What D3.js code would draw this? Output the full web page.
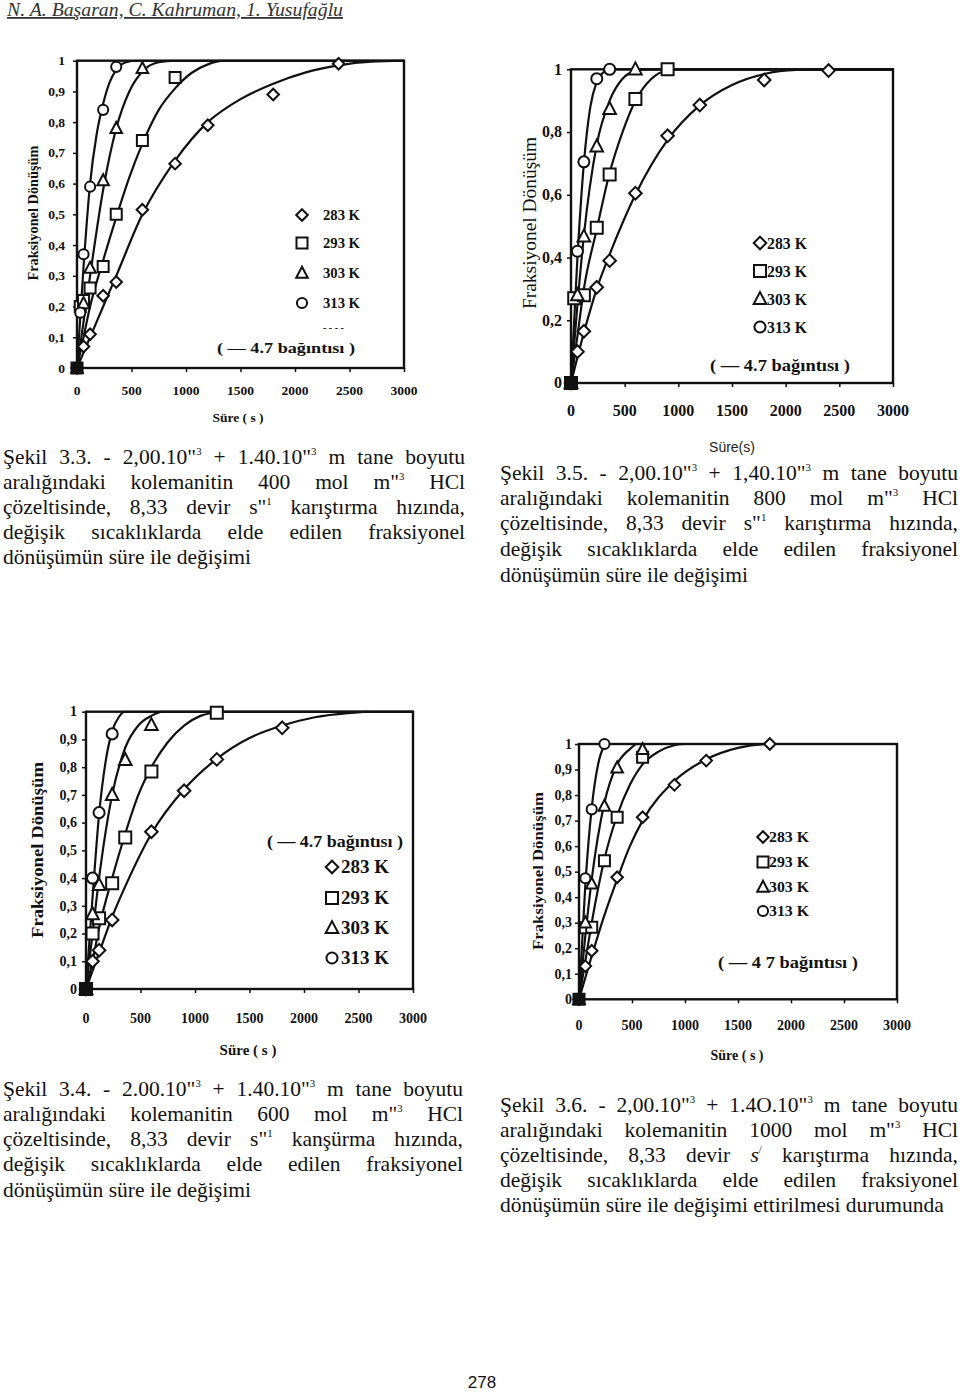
<!DOCTYPE html>
<html><head><meta charset="utf-8">
<script src="https://cdn.jsdelivr.net/npm/d3@7"></script>
<style>body{margin:0;background:#fff}svg{display:block}</style>
</head><body>
<svg id="page" width="960" height="1393"></svg>
<script>
// ---------------- DATA ----------------
const xTickValues = [0, 500, 1000, 1500, 2000, 2500, 3000];
const xTickLabels = ["0", "500", "1000", "1500", "2000", "2500", "3000"];
const yTickValuesFine = [0, 0.1, 0.2, 0.3, 0.4, 0.5, 0.6, 0.7, 0.8, 0.9, 1];
const yTickLabelsFine = ["0", "0,1", "0,2", "0,3", "0,4", "0,5", "0,6", "0,7", "0,8", "0,9", "1"];
const yTickValuesCoarse = [0, 0.2, 0.4, 0.6, 0.8, 1];
const yTickLabelsCoarse = ["0", "0,2", "0,4", "0,6", "0,8", "1"];
const temperatures = ["283 K", "293 K", "303 K", "313 K"];
const symbolKinds = ["diamond", "square", "triangle", "circle"];

// measured points [time s, fractional conversion] — 400 mol m-3 (Şekil 3.3)
const pts400_283 = [[0,0],[60,0.07],[120,0.11],[240,0.235],[360,0.28],[600,0.515],[900,0.665],[1200,0.79],[1800,0.89],[2400,0.99]];
const pts400_293 = [[0,0],[30,0.2],[60,0.22],[120,0.26],[240,0.33],[360,0.5],[600,0.74],[900,0.945]];
const pts400_303 = [[0,0],[60,0.21],[120,0.325],[240,0.61],[360,0.78],[600,0.975]];
const pts400_313 = [[0,0],[30,0.18],[60,0.37],[120,0.59],[240,0.84],[360,0.98]];
// fitted curves
const fit400_283 = [[0,0],[120,0.1],[240,0.2],[360,0.3],[600,0.5],[900,0.675],[1200,0.8],[1500,0.875],[1800,0.925],[2100,0.962],[2400,0.985],[2700,0.997],[3000,1]];
const fit400_293 = [[0,0],[60,0.1],[120,0.2],[240,0.35],[360,0.49],[480,0.62],[600,0.73],[750,0.84],[900,0.91],[1050,0.96],[1200,0.988],[1350,1],[3000,1]];
const fit400_303 = [[0,0],[60,0.15],[120,0.3],[240,0.58],[360,0.78],[480,0.9],[600,0.965],[750,0.995],[900,1],[3000,1]];
const fit400_313 = [[0,0],[60,0.33],[120,0.6],[180,0.76],[240,0.86],[300,0.93],[360,0.97],[450,0.995],[550,1],[3000,1]];

// 800 mol m-3 (Şekil 3.5)
const pts800_283 = [[0,0],[60,0.1],[120,0.165],[240,0.305],[360,0.39],[600,0.605],[900,0.788],[1200,0.886],[1800,0.966],[2400,0.996]];
const pts800_293 = [[0,0],[30,0.27],[120,0.28],[240,0.495],[360,0.665],[600,0.905],[900,1.0]];
const pts800_303 = [[0,0],[60,0.28],[120,0.467],[240,0.754],[360,0.874],[600,1.0]];
const pts800_313 = [[0,0],[60,0.42],[120,0.705],[240,0.97],[360,1.0]];
const fit800_283 = [[0,0],[120,0.16],[240,0.3],[360,0.41],[480,0.51],[600,0.6],[900,0.775],[1200,0.885],[1500,0.95],[1800,0.985],[2100,0.998],[2400,1],[3000,1]];
const fit800_293 = [[0,0],[60,0.15],[120,0.3],[240,0.49],[360,0.67],[480,0.8],[600,0.9],[750,0.97],[900,0.997],[1000,1],[3000,1]];
const fit800_303 = [[0,0],[60,0.25],[120,0.47],[240,0.76],[360,0.9],[480,0.97],[600,0.995],[700,1],[3000,1]];
const fit800_313 = [[0,0],[60,0.4],[120,0.7],[180,0.88],[240,0.96],[300,0.99],[360,1],[3000,1]];

// 600 mol m-3 (Şekil 3.4)
const pts600_283 = [[0,0],[60,0.1],[120,0.14],[240,0.249],[600,0.567],[900,0.715],[1200,0.828],[1800,0.942]];
const pts600_293 = [[0,0],[60,0.2],[120,0.255],[240,0.381],[360,0.546],[600,0.784],[1200,0.996]];
const pts600_303 = [[0,0],[60,0.27],[120,0.375],[240,0.7],[360,0.826],[600,0.952]];
const pts600_313 = [[0,0],[60,0.4],[120,0.636],[240,0.92]];
const fit600_283 = [[0,0],[120,0.13],[240,0.26],[360,0.37],[600,0.56],[900,0.72],[1200,0.83],[1500,0.905],[1800,0.95],[2100,0.98],[2400,0.995],[2700,1],[3000,1]];
const fit600_293 = [[0,0],[60,0.1],[120,0.22],[240,0.4],[360,0.56],[480,0.7],[600,0.8],[750,0.89],[900,0.95],[1050,0.985],[1200,0.997],[1300,1],[3000,1]];
const fit600_303 = [[0,0],[60,0.2],[120,0.4],[240,0.7],[360,0.87],[480,0.95],[600,0.985],[700,1],[3000,1]];
const fit600_313 = [[0,0],[60,0.33],[120,0.63],[180,0.82],[240,0.93],[300,0.98],[360,1],[3000,1]];

// 1000 mol m-3 (Şekil 3.6)
const pts1000_283 = [[0,0],[60,0.13],[120,0.19],[360,0.478],[600,0.713],[900,0.84],[1200,0.935],[1800,1.0]];
const pts1000_293 = [[0,0],[60,0.28],[120,0.282],[240,0.543],[360,0.713],[600,0.948]];
const pts1000_303 = [[0,0],[60,0.3],[120,0.452],[240,0.757],[360,0.907],[600,0.979]];
const pts1000_313 = [[0,0],[60,0.474],[120,0.744],[240,1.0]];
const fit1000_283 = [[0,0],[120,0.17],[240,0.33],[360,0.47],[480,0.6],[600,0.7],[900,0.855],[1200,0.94],[1500,0.985],[1800,1],[3000,1]];
const fit1000_293 = [[0,0],[60,0.15],[120,0.3],[240,0.55],[360,0.72],[480,0.84],[600,0.92],[750,0.97],[900,0.995],[1000,1],[3000,1]];
const fit1000_303 = [[0,0],[60,0.25],[120,0.47],[240,0.77],[360,0.92],[480,0.98],[550,1],[3000,1]];
const fit1000_313 = [[0,0],[60,0.45],[120,0.75],[180,0.92],[240,0.99],[280,1],[3000,1]];

// texts
const headerText = "N. A. Başaran, C. Kahruman, 1. Yusufağlu";
const pageNumber = "278";
const yTitle = "Fraksiyonel Dönüşüm";
const xTitle = "Süre ( s )";
const fitLabel = "( — 4.7 bağıntısı )";
const fitLabel4 = "( — 4 7 bağıntısı )";
const caption33 = ['Şekil 3.3. - 2,00.10"^3 + 1.40.10"^3 m tane boyutu','aralığındaki kolemanitin 400 mol m"^3 HCl','çözeltisinde, 8,33 devir s"^1 karıştırma hızında,','değişik sıcaklıklarda elde edilen fraksiyonel','dönüşümün süre ile değişimi'];
const caption35 = ['Şekil 3.5. - 2,00.10"^3 + 1,40.10"^3 m tane boyutu','aralığındaki kolemanitin 800 mol m"^3 HCl','çözeltisinde, 8,33 devir s"^1 karıştırma hızında,','değişik sıcaklıklarda elde edilen fraksiyonel','dönüşümün süre ile değişimi'];
const caption34 = ['Şekil 3.4. - 2.00.10"^3 + 1.40.10"^3 m tane boyutu','aralığındaki kolemanitin 600 mol m"^3 HCl','çözeltisinde, 8,33 devir s"^1 kanşürma hızında,','değişik sıcaklıklarda elde edilen fraksiyonel','dönüşümün süre ile değişimi'];
const caption36 = ['Şekil 3.6. - 2,00.10"^3 + 1.4O.10"^3 m tane boyutu','aralığındaki kolemanitin 1000 mol m"^3 HCl','çözeltisinde, 8,33 devir ~s^/ karıştırma hızında,','değişik sıcaklıklarda elde edilen fraksiyonel','dönüşümün süre ile değişimi ettirilmesi durumunda'];

// ---------------- LAYOUT ----------------
const SERIF = "'Liberation Serif','Times New Roman',serif";
const SANS = "'Liberation Sans',Arial,sans-serif";
const svg = d3.select("#page");

const charts = [
  { pts:[pts400_283,pts400_293,pts400_303,pts400_313], fits:[fit400_283,fit400_293,fit400_303,fit400_313],
    L:77, R:404, B:368, T:60.7, fine:true, tickFont:13.5, yLabR:65, xLabY:395,
    yTitleX:33, yTitleY:213, yTitleLen:135, yTitleFont:14, yTitleBold:true,
    xTitleX:238, xTitleY:422, xTitleFont:13.5,
    msize:5.5, legend:{symX:302, textX:323, ys:[215,243,273,303], font:14, textLen:37},
    fitLbl:{text:fitLabel, x:217, y:353, len:138, font:15}, artifact:{x:323,y:331} },
  { pts:[pts800_283,pts800_293,pts800_303,pts800_313], fits:[fit800_283,fit800_293,fit800_303,fit800_313],
    L:571, R:893, B:383, T:69.3, fine:false, tickFont:16, yLabR:562, xLabY:416, xLabLen:true,
    yTitleX:529, yTitleY:223, yTitleLen:172, yTitleFont:19, yTitleBold:false,
    xTitleX:null, msize:6, legend:{symX:760, textX:767, ys:[243,271,299,327], font:17, textLen:40},
    fitLbl:{text:fitLabel, x:710, y:371, len:140, font:16} },
  { pts:[pts600_283,pts600_293,pts600_303,pts600_313], fits:[fit600_283,fit600_293,fit600_303,fit600_313],
    L:86, R:413, B:989, T:711.7, fine:true, tickFont:14, yLabR:77, xLabY:1023,
    yTitleX:37, yTitleY:850, yTitleLen:176, yTitleFont:16, yTitleBold:true,
    xTitleX:248, xTitleY:1055, xTitleFont:15,
    msize:6, legend:{symX:332, textX:341, ys:[867,898,928,958], font:18, textLen:48},
    fitLbl:{text:fitLabel, x:267, y:847, len:136, font:16} },
  { pts:[pts1000_283,pts1000_293,pts1000_303,pts1000_313], fits:[fit1000_283,fit1000_293,fit1000_303,fit1000_313],
    L:579, R:897, B:999.3, T:744, fine:true, tickFont:14, yLabR:572, xLabY:1030,
    yTitleX:538, yTitleY:871, yTitleLen:158, yTitleFont:14, yTitleBold:true,
    xTitleX:737, xTitleY:1060, xTitleFont:14,
    msize:5.5, legend:{symX:763, textX:769, ys:[837,862,887,911], font:15, textLen:40},
    fitLbl:{text:fitLabel4, x:718, y:968, len:140, font:16} }
];

function symbolPath(kind, r) {
  if (kind === "diamond") return `M0,${-r*1.05}L${r*1.05},0L0,${r*1.05}L${-r*1.05},0Z`;
  if (kind === "square") return `M${-r},${-r}H${r}V${r}H${-r}Z`;
  if (kind === "triangle") return `M0,${-r*1.15}L${r*1.05},${r*0.85}L${-r*1.05},${r*0.85}Z`;
  return d3.symbol(d3.symbolCircle, Math.PI*r*r*0.85)();
}

charts.forEach((c, ci) => {
  const g = svg.append("g");
  const x = d3.scaleLinear().domain([0, 3000]).range([c.L, c.R]);
  const y = d3.scaleLinear().domain([0, 1]).range([c.B, c.T]);
  const yVals = c.fine ? yTickValuesFine : yTickValuesCoarse;
  const yLabs = c.fine ? yTickLabelsFine : yTickLabelsCoarse;

  // axes (ticks)
  const xAxis = d3.axisBottom(x).tickValues(xTickValues).tickSize(4).tickFormat("");
  const yAxis = d3.axisLeft(y).tickValues(yVals).tickSize(4).tickFormat("");
  g.append("g").attr("transform", `translate(0,${c.B})`).call(xAxis)
    .call(s => s.select(".domain").remove()).selectAll("line").attr("stroke", "#111").attr("stroke-width", 1.5);
  g.append("g").attr("transform", `translate(${c.L},0)`).call(yAxis)
    .call(s => s.select(".domain").remove()).selectAll("line").attr("stroke", "#111").attr("stroke-width", 1.5);

  // tick labels
  g.selectAll(".xl").data(xTickValues).join("text")
    .attr("x", d => x(d)).attr("y", c.xLabY).attr("text-anchor", "middle")
    .attr("font-family", SERIF).attr("font-weight", "bold").attr("font-size", c.tickFont).attr("fill", "#111")
    .each(function(d, i){ d3.select(this).text(xTickLabels[i]); if (c.xLabLen && xTickLabels[i].length > 2) d3.select(this).attr("textLength", xTickLabels[i].length*8).attr("lengthAdjust","spacingAndGlyphs"); });
  g.selectAll(".yl").data(yVals).join("text")
    .attr("x", c.yLabR).attr("y", d => y(d) + c.tickFont*0.34).attr("text-anchor", "end")
    .attr("font-family", SERIF).attr("font-weight", "bold").attr("font-size", c.tickFont).attr("fill", "#111")
    .text((d, i) => yLabs[i]);

  // frame
  g.append("rect").attr("x", c.L).attr("y", c.T).attr("width", c.R - c.L).attr("height", c.B - c.T)
    .attr("fill", "none").attr("stroke", "#111").attr("stroke-width", 2.4);

  // clip for curves
  const clipId = "clip" + ci;
  svg.append("clipPath").attr("id", clipId).append("rect")
    .attr("x", c.L).attr("y", c.T - 1).attr("width", c.R - c.L).attr("height", c.B - c.T + 1);

  const line = d3.line().x(d => x(d[0])).y(d => y(d[1])).curve(d3.curveMonotoneX);
  g.append("g").attr("clip-path", `url(#${clipId})`).selectAll("path").data(c.fits).join("path")
    .attr("d", line).attr("fill", "none").attr("stroke", "#111").attr("stroke-width", 2.2);

  // markers
  c.pts.forEach((series, si) => {
    g.append("g").selectAll("path").data(series).join("path")
      .attr("transform", d => `translate(${x(d[0])},${y(d[1])})`)
      .attr("d", symbolPath(symbolKinds[si], c.msize))
      .attr("fill", "#fff").attr("stroke", "#111").attr("stroke-width", 2);
  });
  // filled origin blob (overlapping markers at t=0)
  g.append("rect").attr("x", x(0) - 5).attr("y", y(0) - 5).attr("width", 10).attr("height", 10).attr("fill", "#111");

  // legend
  temperatures.forEach((t, i) => {
    const ly = c.legend.ys[i];
    g.append("path").attr("transform", `translate(${c.legend.symX},${ly})`)
      .attr("d", symbolPath(symbolKinds[i], c.msize)).attr("fill", "#fff").attr("stroke", "#111").attr("stroke-width", 2);
    g.append("text").attr("x", c.legend.textX).attr("y", ly + c.legend.font*0.34)
      .attr("font-family", SERIF).attr("font-weight", "bold").attr("font-size", c.legend.font).attr("fill", "#111")
      .attr("textLength", c.legend.textLen).attr("lengthAdjust", "spacingAndGlyphs").text(t);
  });
  if (c.artifact) {
    g.append("text").attr("x", c.artifact.x).attr("y", c.artifact.y).attr("font-family", SERIF)
      .attr("font-weight", "bold").attr("font-size", 10).attr("fill", "#111").text("- - -  -");
  }
  g.append("text").attr("x", c.fitLbl.x).attr("y", c.fitLbl.y)
    .attr("font-family", SERIF).attr("font-weight", "bold").attr("font-size", c.fitLbl.font).attr("fill", "#111")
    .attr("textLength", c.fitLbl.len).attr("lengthAdjust", "spacingAndGlyphs").text(c.fitLbl.text);

  // axis titles
  g.append("text").attr("transform", `translate(${c.yTitleX + c.yTitleFont*0.35},${c.yTitleY}) rotate(-90)`)
    .attr("text-anchor", "middle").attr("font-family", SERIF).attr("font-weight", c.yTitleBold ? "bold" : "normal")
    .attr("font-size", c.yTitleFont).attr("fill", "#111")
    .attr("textLength", c.yTitleLen).attr("lengthAdjust", "spacingAndGlyphs").text(yTitle);
  if (c.xTitleX !== null) {
    g.append("text").attr("x", c.xTitleX).attr("y", c.xTitleY).attr("text-anchor", "middle")
      .attr("font-family", SERIF).attr("font-weight", "bold").attr("font-size", c.xTitleFont).attr("fill", "#111")
      .text(xTitle);
  }
});

// stray axis label of the second figure
svg.append("text").attr("x", 732).attr("y", 452).attr("text-anchor", "middle")
  .attr("font-family", SANS).attr("font-size", 14).attr("fill", "#222").text("Süre(s)");

// header
svg.append("text").attr("x", 7).attr("y", 16).attr("font-family", SERIF).attr("font-style", "italic")
  .attr("font-size", 18).attr("fill", "#333").attr("text-decoration", "underline")
  .attr("textLength", 336).attr("lengthAdjust", "spacingAndGlyphs").text(headerText);

// page number
svg.append("text").attr("x", 482).attr("y", 1388).attr("text-anchor", "middle")
  .attr("font-family", SANS).attr("font-size", 17).attr("fill", "#111").text(pageNumber);

// captions (justified paragraph)
function paragraph(lines, x0, x1, baselines, fontSize, justifyLast) {
  lines.forEach((ln, li) => {
    const words = ln.split(" ");
    const nodes = words.map(w => {
      const t = svg.append("text").attr("y", baselines[li]).attr("font-family", SERIF)
        .attr("font-size", fontSize).attr("fill", "#111");
      let italic = false;
      if (w[0] === "~") { italic = true; w = w.slice(1); }
      const parts = w.split(/(\^.)/).filter(p => p.length);
      let shifted = false;
      parts.forEach((p, pi) => {
        if (p[0] === "^") {
          t.append("tspan").attr("font-size", fontSize*0.5).attr("dy", -fontSize*0.42).text(p[1]);
          shifted = true;
        } else {
          const ts = t.append("tspan").text(p);
          if (shifted) { ts.attr("dy", fontSize*0.42); shifted = false; }
          if (italic && pi === 0) ts.attr("font-style", "italic");
        }
      });
      return t;
    });
    const widths = nodes.map(n => n.node().getComputedTextLength());
    const total = d3.sum(widths);
    const isLast = li === lines.length - 1;
    let gap = (!isLast || justifyLast) && words.length > 1 ? (x1 - x0 - total) / (words.length - 1) : fontSize*0.25;
    let cx = x0;
    nodes.forEach((n, i) => { n.attr("x", cx); cx += widths[i] + gap; });
  });
}
paragraph(caption33, 3, 465, [464, 489, 514, 539, 564], 21.5, false);
paragraph(caption35, 500, 958, [480, 505, 530, 556, 582], 21.5, false);
paragraph(caption34, 3, 463, [1096, 1121, 1146, 1171, 1197], 21.5, false);
paragraph(caption36, 500, 958, [1112, 1137, 1162, 1187, 1212], 21.5, false);
</script>
</body></html>
